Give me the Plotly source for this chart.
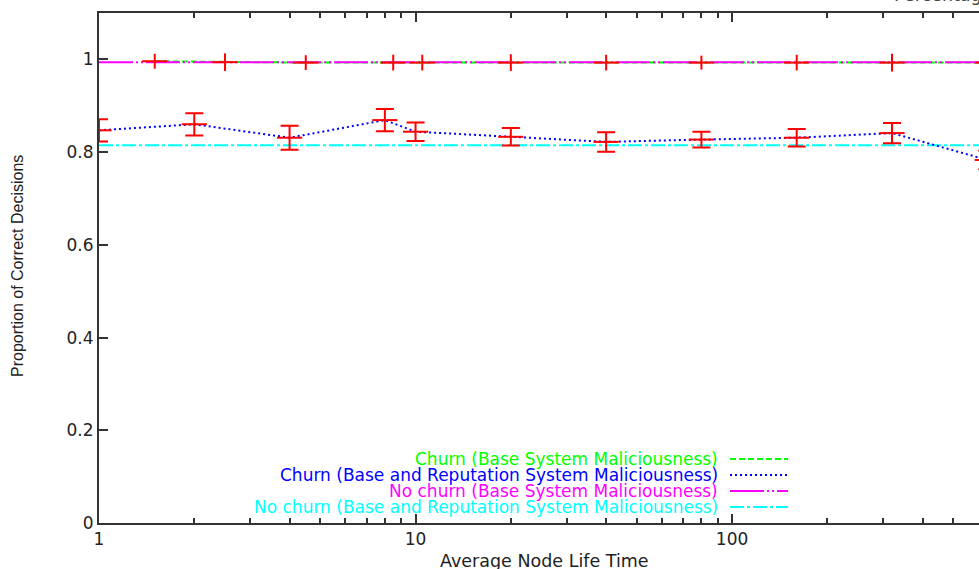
import plotly.graph_objects as go

# ---------------- data ----------------
lifetime_blue = [1, 2, 4, 8, 10, 20, 40, 80, 160, 320, 640]
churn_rep = [0.847, 0.860, 0.831, 0.869, 0.844, 0.833, 0.822, 0.827, 0.831, 0.841, 0.783]
churn_rep_err = [0.024, 0.024, 0.026, 0.024, 0.020, 0.019, 0.021, 0.017, 0.019, 0.022, 0.020]

lifetime_green = [1.5, 2.5, 4.5, 8.5, 10.5, 20, 40, 80, 160, 320, 640]
churn_base = [0.996, 0.994, 0.993, 0.993, 0.993, 0.993, 0.993, 0.993, 0.993, 0.993, 0.993]
churn_base_err = [0.016, 0.019, 0.016, 0.017, 0.017, 0.018, 0.017, 0.015, 0.017, 0.019, 0.017]

flat_x = [1, 640]
nochurn_base = [0.994, 0.994]
nochurn_rep = [0.815, 0.815]

x_major = [1, 10, 100]
x_major_text = ["1", "10", "100"]
x_minor = [2, 3, 4, 5, 6, 7, 8, 9, 20, 30, 40, 50, 60, 70, 80, 90, 200, 300, 400, 500, 600]
y_ticks = [0, 0.2, 0.4, 0.6, 0.8, 1.0]
y_text = ["0", "0.2", "0.4", "0.6", "0.8", "1"]

legend_labels = [
    "Churn (Base System Maliciousness)",
    "Churn (Base and Reputation System Maliciousness)",
    "No churn (Base System Maliciousness)",
    "No churn (Base and Reputation System Maliciousness)",
]

# ---------------- styles ----------------
GREEN, BLUE, MAGENTA, CYAN, RED = "#00ff00", "#0000ff", "#ff00ff", "#00ffff", "#ff0000"
DASH_GREEN = "6px,3px"
DASH_BLUE = "2px,3px"
DASH_MAG = "34px,3px,2px,3px,2px,3px"
DASH_CYAN = "14px,3px,3px,3px"
legend_colors = [GREEN, BLUE, MAGENTA, CYAN]
legend_dashes = [DASH_GREEN, DASH_BLUE, DASH_MAG, DASH_CYAN]
HFONT = "DejaVu Sans"
AXC = "#333333"

fig = go.Figure()

fig.add_trace(go.Scatter(x=flat_x, y=nochurn_rep, mode="lines",
                         line=dict(color=CYAN, width=2, dash=DASH_CYAN)))
fig.add_trace(go.Scatter(x=lifetime_blue, y=churn_rep, mode="lines",
                         line=dict(color=BLUE, width=2, dash=DASH_BLUE)))
fig.add_trace(go.Scatter(x=lifetime_green, y=churn_base, mode="lines",
                         line=dict(color=GREEN, width=2, dash=DASH_GREEN)))
fig.add_trace(go.Scatter(x=flat_x, y=nochurn_base, mode="lines",
                         line=dict(color=MAGENTA, width=2, dash=DASH_MAG)))
# error bars
fig.add_trace(go.Scatter(x=lifetime_blue, y=churn_rep, mode="markers",
                         marker=dict(symbol="line-ew", size=18, color=RED,
                                     line=dict(color=RED, width=2)),
                         error_y=dict(type="data", array=churn_rep_err, color=RED,
                                      thickness=2, width=9)))
fig.add_trace(go.Scatter(x=lifetime_green, y=churn_base, mode="markers",
                         marker=dict(symbol="line-ew", size=18, color=RED,
                                     line=dict(color=RED, width=2)),
                         error_y=dict(type="data", array=churn_base_err, color=RED,
                                      thickness=2, width=0)))

# ---------------- layout ----------------
L, T, B = 99, 13, 523
PW, PH = 979 - L, B - T

def px(xp):
    return (xp - L) / PW

def py(yp):
    return (B - yp) / PH

annotations = []
shapes = []
rows_y = [459, 475, 491, 507]
for lab, col, dsh, yy in zip(legend_labels, legend_colors, legend_dashes, rows_y):
    annotations.append(dict(text=lab, xref="paper", yref="paper", x=px(719), y=py(yy),
                            xanchor="right", yanchor="middle", showarrow=False, borderpad=0,
                            font=dict(family=HFONT, size=17, color=col)))
    shapes.append(dict(type="line", xref="paper", yref="paper",
                       x0=px(730), x1=px(788), y0=py(yy), y1=py(yy),
                       line=dict(color=col, width=2, dash=dsh)))

annotations.append(dict(text="Average Node Life Time", xref="paper", yref="paper",
                        x=px(544), y=py(561), xanchor="center", yanchor="middle",
                        showarrow=False, font=dict(family=HFONT, size=17.5, color="#222")))
annotations.append(dict(text="Proportion of Correct Decisions", xref="paper", yref="paper",
                        x=px(17), y=py(266), xanchor="center", yanchor="middle",
                        textangle=-90, showarrow=False,
                        font=dict(family="Liberation Sans", size=16, color="#222")))
annotations.append(dict(text="Percentage", xref="paper", yref="paper",
                        x=px(892), y=py(7), xanchor="left", yanchor="bottom",
                        showarrow=False, font=dict(family=HFONT, size=17.5, color="#444")))

fig.update_layout(
    width=979, height=569,
    margin=dict(l=L, r=0, t=T, b=569 - B, pad=0),
    paper_bgcolor="white", plot_bgcolor="white",
    showlegend=False,
    annotations=annotations, shapes=shapes,
    xaxis=dict(type="log", range=[0, 2.780], tickmode="array", tickvals=x_major,
               ticktext=x_major_text, ticks="inside", ticklen=9, tickwidth=1.5,
               tickcolor=AXC, showline=True, linewidth=2, linecolor=AXC, mirror="ticks",
               showgrid=False, zeroline=False,
               tickfont=dict(family=HFONT, size=17, color="#222"),
               minor=dict(tickmode="array", tickvals=x_minor, ticks="inside",
                          ticklen=5, tickwidth=1.5, tickcolor=AXC, showgrid=False)),
    yaxis=dict(range=[0, 1.1], tickmode="array", tickvals=y_ticks, ticktext=y_text,
               ticks="inside", ticklen=9, tickwidth=1.5, tickcolor=AXC,
               showline=True, linewidth=2, linecolor=AXC, showgrid=False, zeroline=False,
               tickfont=dict(family=HFONT, size=17, color="#222")),
)

fig.write_html("out.html")
